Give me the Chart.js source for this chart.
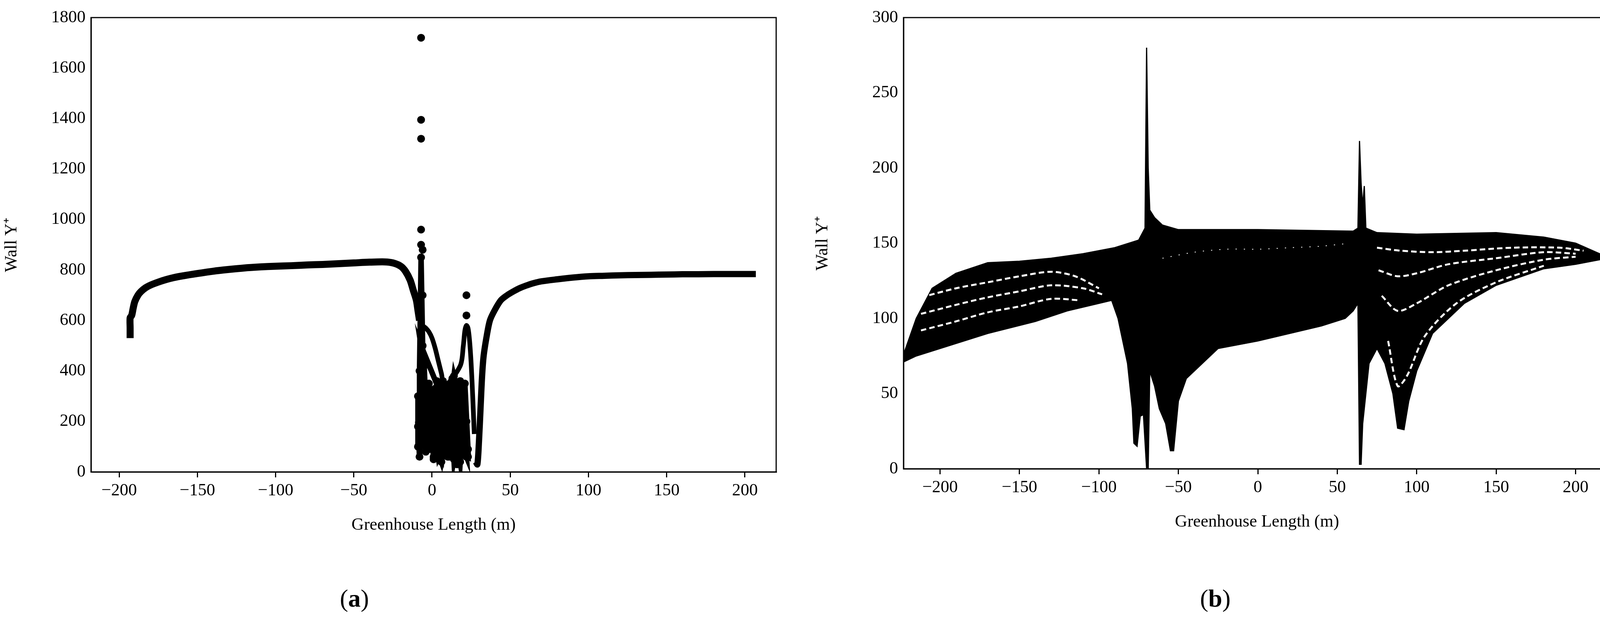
<!DOCTYPE html>
<html><head><meta charset="utf-8">
<script src="https://cdn.jsdelivr.net/npm/chart.js@4/dist/chart.umd.min.js"></script>
<style>
body{margin:0;background:#fff;width:4153px;height:1605px;position:relative;overflow:hidden;font-family:"Liberation Serif",serif}
.c{position:absolute;top:0;height:1605px}
.lab{position:absolute;top:1495px;font-size:64px;font-family:"Liberation Serif",serif}
</style></head><body>
<div class="c" style="left:0;width:2076px"><canvas id="a" width="2076" height="1605"></canvas></div>
<div class="c" style="left:2076px;width:2077px"><canvas id="b" width="2077" height="1605"></canvas></div>
<div class="lab" style="left:870px">(<b>a</b>)</div>
<div class="lab" style="left:3072px">(<b>b</b>)</div>
<script>
// Panel (a) data
const aCurveLeftX = [-193,-193,-193,-192,-191,-190,-188,-186,-183,-180,-175,-170,-165,-160,-150,-140,-130,-120,-110,-100,-90,-80,-70,-60,-50,-40,-30,-25,-20,-17,-14,-12,-10,-9,-8];
const aCurveLeftY = [530,570,610,620,650,675,700,715,730,740,752,762,770,776,786,795,802,808,812,815,817,820,822,825,828,831,832,828,815,795,760,720,680,640,600];
const aCurveRightX = [28,29,30,31,32,33,35,37,40,44,48,52,56,60,65,70,80,90,100,110,120,130,140,150,160,170,180,190,200,207];
const aCurveRightY = [40,30,120,250,380,460,540,600,640,680,700,715,728,738,748,755,763,770,775,777,779,780,781,782,783,783,784,784,784,784];
const aBranchX = [-8,-6,-4,-2,0,2,4,6,8,18,20,21,22,23,24,25,26,27];
const aBranchY = [600,580,570,555,530,490,440,390,340,420,500,560,580,570,520,430,300,150];
const aScatterX = [-7,-7,-7,-7,-7,-6,-6,22,22,-9,-9,-8,-8,-7,-6,-5,-4,-3,-2,-1,0,1,2,3,4,5,6,7,8,9,10,11,12,13,14,15,16,17,18,19,20,21,22,23,-9,-8,-6,-4,-2,0,2,4,6,8,10,12,14,16,18,20,22,-7,-5,-3,-1,1,3,5,7,9,11,13,15,17,19,21,23,-8,-4,0,4,8,12,16,20,-6,-2,2,6,10,14,18,22,-9];
const aScatterY = [1720,1395,1320,960,900,880,700,700,620,100,300,200,400,850,500,320,150,250,90,300,180,60,330,120,350,50,250,360,100,280,340,60,200,370,150,330,30,260,360,80,300,120,200,60,180,60,240,80,350,260,150,60,90,300,60,280,50,120,40,250,60,500,420,110,220,50,360,160,90,210,120,360,220,40,150,350,90,280,120,200,300,220,120,70,130,260,310,110,40,180,380,280,60];
// Panel (b) data
const bUpperX = [-225,-215,-205,-190,-170,-150,-130,-110,-90,-75,-71,-70,-69,-68,-65,-60,-50,0,60,63,64,65,66,67,68,75,100,150,180,200,215,220];
const bUpperY = [70,100,120,130,137,138,140,143,147,152,160,280,200,172,167,162,159,159,158,160,218,190,175,188,160,157,156,157,154,150,143,140];
const bLowerX = [-225,-215,-200,-170,-140,-120,-100,-92,-88,-82,-79,-78,-76,-74,-72,-70,-69,-68,-65,-62,-58,-55,-53,-50,-45,-35,-25,0,20,40,55,60,63,64,65,66,70,75,80,85,88,92,95,100,110,130,150,180,200,220];
const bLowerY = [70,75,80,90,98,105,110,112,100,70,40,17,15,35,36,0,0,65,55,40,30,12,12,45,60,70,80,85,90,95,100,105,110,3,3,30,70,80,70,50,27,26,45,65,90,110,122,133,136,140];
const bMeshL1X = [-212,-190,-170,-150,-130,-115,-100];
const bMeshL1Y = [114,120,124,128,131,128,120];
const bMeshL2X = [-212,-190,-170,-150,-130,-110,-98];
const bMeshL2Y = [103,109,114,118,122,120,116];
const bMeshL3X = [-212,-190,-170,-150,-130,-112];
const bMeshL3Y = [92,98,104,108,113,112];
const bMeshR1X = [75,90,110,130,160,190,205];
const bMeshR1Y = [147,145,144,145,147,147,145];
const bMeshR2X = [76,88,100,120,150,180,200];
const bMeshR2Y = [132,128,130,136,140,144,143];
const bMeshR3X = [78,88,100,120,150,180,200];
const bMeshR3Y = [115,105,110,122,132,139,141];
const bMeshR4X = [82,88,94,105,125,150,180];
const bMeshR4Y = [85,55,62,88,110,124,135];
const bMeshCX = [-60,-40,-20,0,20,40,58];
const bMeshCY = [140,144,146,146,147,148,150];
const aXTicks = [-200,-150,-100,-50,0,50,100,150,200];

const zip=(xs,ys)=>xs.map((x,i)=>({x,y:ys[i]}));
const F='"Liberation Serif", serif';
const boxPlugin={id:'box',afterDraw(c){const a=c.chartArea,g=c.ctx;g.save();g.strokeStyle='#000';g.lineWidth=3;g.strokeRect(a.left,a.top,a.right-a.left,a.bottom-a.top);g.restore();}};
function scales(xmin,xmax,ymax,ystep,yW,xH){
 return {
  x:{type:'linear',min:xmin,max:xmax,afterBuildTicks(s){s.ticks=aXTicks.map(v=>({value:v}));},
     afterFit(s){s.height=xH;},
     ticks:{font:{family:F,size:44},color:'#000',padding:8,callback:v=>String(v).replace('-','\u2212')},
     grid:{drawOnChartArea:false,color:'#000',lineWidth:3,tickLength:14},border:{color:'#000',width:3},
     title:{display:true,text:'Greenhouse Length (m)',font:{family:F,size:44},color:'#000',padding:{top:6}}},
  y:{min:0,max:ymax,afterFit(s){s.width=yW;},
     ticks:{stepSize:ystep,font:{family:F,size:44},color:'#000',padding:14,callback:v=>String(v)},
     grid:{drawOnChartArea:false,color:'#000',lineWidth:3,tickLength:0},border:{color:'#000',width:3},
     title:{display:true,text:'Wall Y\u207A',font:{family:F,size:44},color:'#000',padding:{bottom:6}}}
 };
}
const common={responsive:false,animation:false,plugins:{legend:{display:false},tooltip:{enabled:false}}};
const ln=(d,w)=>({data:d,showLine:true,borderColor:'#000',borderWidth:w,pointRadius:0,tension:0.3,fill:false});
new Chart(document.getElementById('a'),{type:'scatter',data:{datasets:[
 ln(zip(aCurveLeftX,aCurveLeftY),18),
 ln(zip(aCurveRightX,aCurveRightY),16),
 ln(zip(aBranchX,aBranchY),12),
 {data:zip(aScatterX,aScatterY),backgroundColor:'#000',pointRadius:10,borderWidth:0},
 {data:zip(aScatterX.slice(9),aScatterY.slice(9)),showLine:true,borderColor:'#000',borderWidth:14,pointRadius:0}
]},options:{...common,layout:{padding:{left:0,right:89,top:45,bottom:230}},scales:scales(-218,220,1800,200,233,167)},plugins:[boxPlugin]});

const mesh=(xs,ys)=>({data:zip(xs,ys),showLine:true,borderColor:'#fff',borderWidth:5,borderDash:[14,8],pointRadius:0,tension:0.3,order:-1});
new Chart(document.getElementById('b'),{type:'scatter',data:{datasets:[
 {data:zip(bUpperX,bUpperY),showLine:true,borderColor:'#000',borderWidth:3,pointRadius:0,tension:0,fill:false},
 {data:zip(bLowerX,bLowerY),showLine:true,borderColor:'#000',borderWidth:3,pointRadius:0,tension:0,fill:{target:0},backgroundColor:'#000'},
 mesh(bMeshL1X,bMeshL1Y),mesh(bMeshL2X,bMeshL2Y),mesh(bMeshL3X,bMeshL3Y),mesh(bMeshR1X,bMeshR1Y),mesh(bMeshR2X,bMeshR2Y),mesh(bMeshR3X,bMeshR3Y),mesh(bMeshR4X,bMeshR4Y),
 {...mesh(bMeshCX,bMeshCY),borderWidth:2,borderDash:[3,18]}
]},options:{...common,layout:{padding:{left:0,right:30,top:45,bottom:238}},scales:scales(-223,222,300,50,237,167)},plugins:[boxPlugin]});
</script></body></html>
